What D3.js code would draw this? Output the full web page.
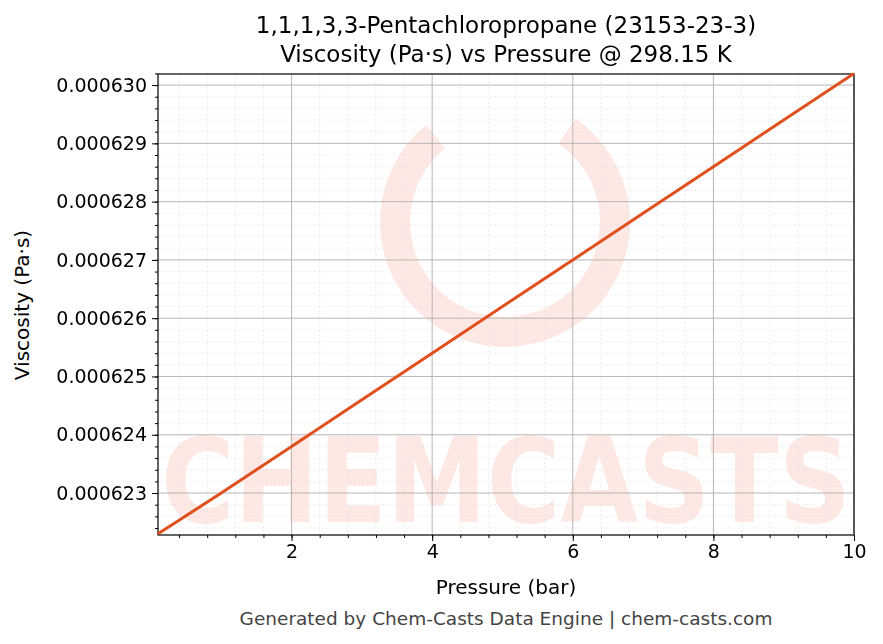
<!DOCTYPE html>
<html><head><meta charset="utf-8">
<script src="https://cdn.jsdelivr.net/npm/d3@7"></script>
<style>body{margin:0;background:#fff;font-family:"DejaVu Sans",sans-serif;}</style>
</head><body>
<svg id="chart" width="883" height="644"></svg>
<script>
var pressures = [0.1, 1, 2, 3, 4, 5, 6, 7, 8, 9, 10];
var viscosity = [0.0006223, 0.0006230, 0.0006238, 0.0006246, 0.0006254, 0.0006262, 0.0006270, 0.0006278, 0.0006286, 0.0006294, 0.0006302];
var xTicks = [2, 4, 6, 8, 10];
var yTicks = [0.000623, 0.000624, 0.000625, 0.000626, 0.000627, 0.000628, 0.000629, 0.000630];

var svg = d3.select("#chart");
var pLeft = 158, pRight = 854, pTop = 74, pBottom = 535;
var x = d3.scaleLinear().domain([0.1, 10]).range([pLeft, pRight]);
var y = d3.scaleLinear().domain([0.00062228, 0.00063019]).range([pBottom, pTop]);

// watermark
var wm = svg.append("g").attr("opacity", 0.12);
wm.append("text").attr("x", 506).attr("y", 522).attr("text-anchor", "middle")
  .attr("font-size", 118).attr("font-weight", "bold").attr("fill", "#f04020")
  .attr("textLength", 690).attr("lengthAdjust", "spacingAndGlyphs").text("CHEMCASTS");
wm.append("path").attr("d", d3.arc()({innerRadius: 95, outerRadius: 125, startAngle: 0.6, endAngle: 5.6}))
  .attr("transform", "translate(505,222)").attr("fill", "#f04020");

// grid
var xMinor = d3.range(0.4, 10.01, 0.4);
var yMinor = d3.range(0.0006224, 0.0006302, 0.0000002);
svg.append("g").selectAll("line").data(xMinor).enter().append("line")
  .attr("x1", function(d){return x(d);}).attr("x2", function(d){return x(d);})
  .attr("y1", pTop).attr("y2", pBottom).attr("stroke", "#ddd").attr("stroke-width", 0.5).attr("stroke-dasharray", "2,2");
svg.append("g").selectAll("line").data(yMinor).enter().append("line")
  .attr("y1", function(d){return y(d);}).attr("y2", function(d){return y(d);})
  .attr("x1", pLeft).attr("x2", pRight).attr("stroke", "#ddd").attr("stroke-width", 0.5).attr("stroke-dasharray", "2,2");
svg.append("g").selectAll("line").data(xTicks).enter().append("line")
  .attr("x1", function(d){return x(d);}).attr("x2", function(d){return x(d);})
  .attr("y1", pTop).attr("y2", pBottom).attr("stroke", "#aaa").attr("stroke-width", 0.8);
svg.append("g").selectAll("line").data(yTicks).enter().append("line")
  .attr("y1", function(d){return y(d);}).attr("y2", function(d){return y(d);})
  .attr("x1", pLeft).attr("x2", pRight).attr("stroke", "#aaa").attr("stroke-width", 0.8);

// axes
svg.append("g").attr("transform", "translate(0," + pBottom + ")")
  .call(d3.axisBottom(x).tickValues(xTicks).tickSize(6).tickPadding(4).tickFormat(d3.format("d")));
svg.append("g").attr("class", "minor").attr("transform", "translate(0," + pBottom + ")")
  .call(d3.axisBottom(x).tickValues(xMinor).tickSize(3).tickFormat(""));
svg.append("g").attr("transform", "translate(" + pLeft + ",0)")
  .call(d3.axisLeft(y).tickValues(yTicks).tickSize(6).tickPadding(5).tickFormat(d3.format(".6f")));
svg.append("g").attr("class", "minor").attr("transform", "translate(" + pLeft + ",0)")
  .call(d3.axisLeft(y).tickValues(yMinor).tickSize(3).tickFormat(""));
svg.selectAll(".minor text").remove();
svg.selectAll(".domain").remove();
svg.selectAll(".tick text").attr("font-size", 19).attr("font-family", "DejaVu Sans").attr("fill", "#000");
svg.selectAll(".tick line").attr("stroke", "#000");
svg.append("rect").attr("x", pLeft).attr("y", pTop).attr("width", pRight - pLeft).attr("height", pBottom - pTop)
  .attr("fill", "none").attr("stroke", "#000").attr("stroke-width", 1.2);

// line
svg.append("path").datum(pressures.map(function(p, i){ return [p, viscosity[i]]; }))
  .attr("fill", "none").attr("stroke", "#e0501e").attr("stroke-width", 3)
  .attr("d", d3.line().x(function(d){return x(d[0]);}).y(function(d){return y(d[1]);}));

// titles
svg.append("text").attr("x", 506).attr("y", 33).attr("text-anchor", "middle").attr("font-size", 23)
  .text("1,1,1,3,3-Pentachloropropane (23153-23-3)");
svg.append("text").attr("x", 506).attr("y", 62).attr("text-anchor", "middle").attr("font-size", 23)
  .text("Viscosity (Pa·s) vs Pressure @ 298.15 K");
svg.append("text").attr("x", 506).attr("y", 594).attr("text-anchor", "middle").attr("font-size", 20)
  .text("Pressure (bar)");
svg.append("text").attr("transform", "translate(29,305) rotate(-90)").attr("text-anchor", "middle").attr("font-size", 20)
  .text("Viscosity (Pa·s)");
svg.append("text").attr("x", 506).attr("y", 625).attr("text-anchor", "middle").attr("font-size", 18.5).attr("fill", "#444")
  .text("Generated by Chem-Casts Data Engine | chem-casts.com");
</script>
</body></html>
